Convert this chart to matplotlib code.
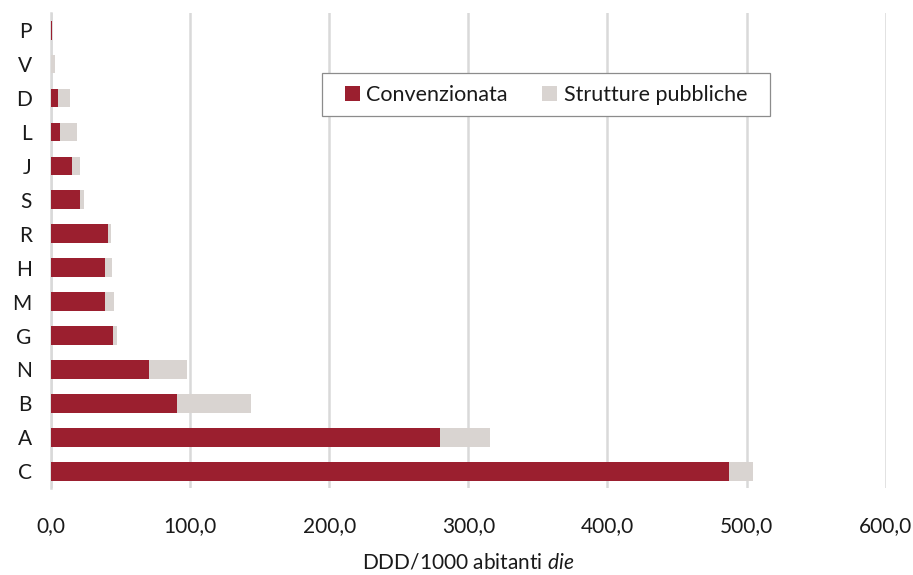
import matplotlib
matplotlib.use('Agg')
import matplotlib.pyplot as plt
from matplotlib.patches import Rectangle

plt.rcParams['font.family'] = ['Lato', 'DejaVu Sans']
plt.rcParams['mathtext.fontset'] = 'custom'
plt.rcParams['mathtext.rm'] = 'Lato'
plt.rcParams['mathtext.it'] = 'Lato:italic'

categories = ['C', 'A', 'B', 'N', 'G', 'M', 'H', 'R', 'S', 'J', 'L', 'D', 'V', 'P']
convenzionata = [487.4, 279.3, 90.6, 70.2, 44.7, 38.9, 38.9, 40.6, 21.1, 15.1, 6.5, 5.0, 0.0, 0.4]
strutture_pubbliche = [17.6, 36.5, 52.9, 27.8, 2.7, 6.5, 5.1, 2.4, 2.4, 6.0, 12.2, 8.7, 3.1, 0.1]
x_ticks = [0, 100, 200, 300, 400, 500, 600]
x_tick_labels = ['0,0', '100,0', '200,0', '300,0', '400,0', '500,0', '600,0']

red = '#9B1F2F'
grey = '#D9D4D1'
txt = '#1a1a1a'

fig = plt.figure(figsize=(9.13, 5.75), dpi=100)
ax = fig.add_axes([0.056, 0.151, 0.914, 0.826])

ax.barh(categories, convenzionata, height=0.55, color=red, label='Convenzionata', zorder=3)
ax.barh(categories, strutture_pubbliche, left=convenzionata, height=0.55, color=grey,
        label='Strutture pubbliche', zorder=3)

ax.set_xlim(0, 600)
ax.set_ylim(-0.5, len(categories) - 0.5)
ax.set_xticks(x_ticks)
ax.set_xticklabels(x_tick_labels)
ax.grid(axis='x', color='#D9D9D9', linewidth=1.8, zorder=0)
ax.set_axisbelow(True)

for s in ['top', 'right', 'bottom']:
    ax.spines[s].set_visible(False)
ax.spines['left'].set_color('#D9D9D9')
ax.spines['left'].set_linewidth(1.8)

ax.tick_params(axis='x', length=0, pad=20, labelsize=15, colors=txt)
ax.tick_params(axis='y', length=0, pad=14, labelsize=15, colors=txt)

ax.set_xlabel(r'DDD/1000 abitanti $\mathit{die}$', fontsize=15, labelpad=12, color=txt)

# legend box drawn separately to get the wide horizontal padding
ax.add_patch(Rectangle((0.325, 0.783), 0.536, 0.091, transform=ax.transAxes,
                       facecolor='white', edgecolor='#8c8c8c', linewidth=0.9, zorder=5))
leg = ax.legend(loc='center', bbox_to_anchor=(0.593, 0.8285), ncol=2, fontsize=15.5,
                handlelength=0.7, handleheight=0.7, handletextpad=0.3, columnspacing=1.6,
                frameon=False, borderpad=0)
leg.set_zorder(6)
for t in leg.get_texts():
    t.set_color(txt)

fig.savefig('out.png', dpi=100)
